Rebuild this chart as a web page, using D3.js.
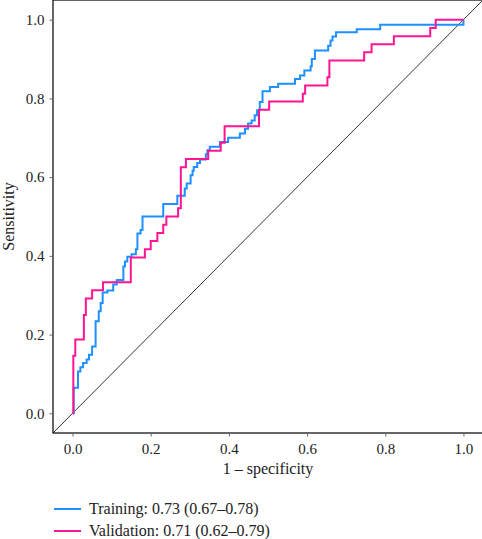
<!DOCTYPE html>
<html>
<head>
<meta charset="utf-8">
<script src="https://cdn.jsdelivr.net/npm/d3@7"></script>
<style>
    body { margin: 0; background: #fff; }
    svg { display: block; }
</style>
</head>
<body>
<svg id="roc"></svg>
<script>
// ROC step points: x where the curve jumps, y after the jump
const trainingFpr = [0, 0.003, 0.014, 0.02, 0.027, 0.036, 0.042, 0.05, 0.059, 0.067, 0.072, 0.077, 0.089, 0.104, 0.113,
    0.13, 0.134, 0.14, 0.151, 0.162, 0.166, 0.174, 0.179, 0.232, 0.268, 0.287, 0.292, 0.302, 0.307, 0.31, 0.319, 0.326,
    0.341, 0.345, 0.351, 0.377, 0.398, 0.428, 0.441, 0.449, 0.458, 0.466, 0.472, 0.479, 0.486, 0.505, 0.526, 0.569,
    0.582, 0.593, 0.609, 0.612, 0.62, 0.654, 0.66, 0.665, 0.674, 0.727, 0.787, 1.0];
const trainingTpr = [0, 0.065, 0.106, 0.117, 0.128, 0.137, 0.149, 0.17, 0.234, 0.259, 0.28, 0.307, 0.312, 0.327, 0.339,
    0.373, 0.386, 0.398, 0.404, 0.417, 0.457, 0.466, 0.5, 0.532, 0.553, 0.571, 0.584, 0.605, 0.616, 0.626, 0.636, 0.645,
    0.658, 0.668, 0.677, 0.689, 0.7, 0.711, 0.723, 0.736, 0.744, 0.757, 0.77, 0.791, 0.818, 0.829, 0.837, 0.849,
    0.858, 0.871, 0.882, 0.9, 0.922, 0.934, 0.947, 0.957, 0.968, 0.976, 0.987, 1.0];

const validationFpr = [0, 0.002, 0.007, 0.029, 0.034, 0.05, 0.078, 0.149, 0.185, 0.2, 0.217, 0.232, 0.24, 0.27, 0.277,
    0.29, 0.347, 0.379, 0.389, 0.477, 0.503, 0.589, 0.595, 0.652, 0.657, 0.746, 0.765, 0.822, 0.915, 0.929, 1.0];
const validationTpr = [0, 0.146, 0.1875, 0.25, 0.292, 0.3125, 0.333, 0.396, 0.417, 0.4375, 0.458, 0.479, 0.5, 0.521, 0.625,
    0.646, 0.667, 0.6875, 0.729, 0.771, 0.792, 0.812, 0.833, 0.854, 0.896, 0.917, 0.9375, 0.958, 0.979, 1.0, 1.0];

const seriesNames = ['Training', 'Validation'];
const seriesAuc = ['0.73 (0.67\u20130.78)', '0.71 (0.62\u20130.79)'];
const seriesColors = ['#1e90ff', '#ff1493'];
const ticks = [0, 0.2, 0.4, 0.6, 0.8, 1.0];

function drawRoc(settings) {
    let svg = d3.select(settings.svg)
        .attr('width', settings.width)
        .attr('height', settings.height);

    let m = settings.margin;
    let x = d3.scaleLinear().domain([-0.05, 1.05]).range([m.left, settings.width - m.right + 1]);
    let y = d3.scaleLinear().domain([-0.05, 1.05]).range([m.top + settings.plotHeight, m.top]);
    settings.x = x;
    settings.y = y;

    // frame
    svg.append('rect')
        .attr('x', x(-0.05))
        .attr('y', y(1.05))
        .attr('width', x(1.05) - x(-0.05))
        .attr('height', y(-0.05) - y(1.05))
        .attr('fill', 'none')
        .attr('stroke', '#000')
        .attr('stroke-width', 1.2);

    // chance line
    svg.append('line')
        .attr('x1', x(-0.05)).attr('y1', y(-0.05))
        .attr('x2', x(1.05)).attr('y2', y(1.05))
        .attr('stroke', '#000')
        .attr('stroke-width', 0.8);

    let line = d3.line()
        .x(function (d) { return x(d[0]); })
        .y(function (d) { return y(d[1]); })
        .curve(d3.curveStepAfter);

    let series = [
        d3.zip(trainingFpr, trainingTpr),
        d3.zip(validationFpr, validationTpr)
    ];

    svg.selectAll('.roc')
        .data(series).enter().append('path')
        .attr('class', 'roc')
        .attr('d', line)
        .attr('fill', 'none')
        .attr('stroke', function (d, i) { return seriesColors[i]; })
        .attr('stroke-width', 2);

    drawAxis(svg, settings);
    drawLegend(svg, settings);
}

function drawAxis(svg, settings) {
    let x = settings.x, y = settings.y;
    let font = settings.fontFamily;

    let xAxis = svg.append('g')
        .attr('transform', 'translate(0,' + y(-0.05) + ')')
        .call(d3.axisBottom(x).tickValues(ticks).tickFormat(d3.format('.1f')).tickSize(3.5).tickPadding(7));
    let yAxis = svg.append('g')
        .attr('transform', 'translate(' + x(-0.05) + ',0)')
        .call(d3.axisLeft(y).tickValues(ticks).tickFormat(d3.format('.1f')).tickSize(3.5).tickPadding(5));

    [xAxis, yAxis].forEach(function (a) {
        a.select('.domain').remove();
        a.selectAll('.tick line').attr('stroke', '#666');
        a.selectAll('.tick text')
            .attr('font-family', font)
            .attr('font-size', settings.tickFontSize)
            .attr('fill', '#222');
    });

    svg.append('text')
        .attr('x', (x(-0.05) + x(1.05)) / 2)
        .attr('y', 474)
        .attr('text-anchor', 'middle')
        .attr('font-family', font)
        .attr('font-size', settings.fontSize)
        .attr('fill', '#222')
        .text('1 \u2013 specificity');

    svg.append('text')
        .attr('transform', 'translate(14,' + (y(-0.05) + y(1.05)) / 2 + ') rotate(-90)')
        .attr('text-anchor', 'middle')
        .attr('font-family', font)
        .attr('font-size', settings.fontSize)
        .attr('fill', '#222')
        .text('Sensitivity');
}

function drawLegend(svg, settings) {
    let g = svg.append('g').attr('transform', 'translate(54,509)');
    let items = g.selectAll('.item')
        .data(seriesNames).enter().append('g')
        .attr('class', 'item')
        .attr('transform', function (d, i) { return 'translate(0,' + i * 22 + ')'; });

    items.append('line')
        .attr('x1', 0).attr('x2', 27)
        .attr('stroke', function (d, i) { return seriesColors[i]; })
        .attr('stroke-width', 2);

    items.append('text')
        .attr('x', 35)
        .attr('dy', '0.3em')
        .attr('font-family', settings.fontFamily)
        .attr('font-size', settings.fontSize)
        .attr('fill', '#222')
        .text(function (d, i) { return d + ': ' + seriesAuc[i]; });
}

drawRoc({
    svg: document.getElementById('roc'),
    width: 482,
    height: 539,
    plotHeight: 433,
    margin: { left: 53, top: 0, right: 0 },
    fontFamily: '"Liberation Serif", "DejaVu Serif", serif',
    fontSize: 16,
    tickFontSize: 15
});
</script>
</body>
</html>
